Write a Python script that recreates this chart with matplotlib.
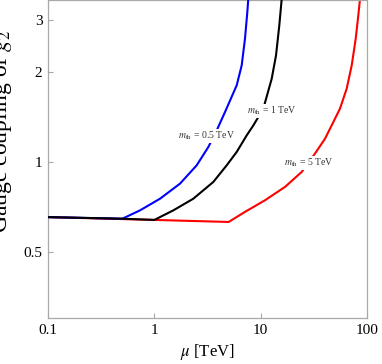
import matplotlib
matplotlib.use("Agg")
import matplotlib.pyplot as plt
from matplotlib.ticker import FixedLocator, FixedFormatter, NullLocator

plt.rcParams['font.family'] = ['Liberation Serif', 'DejaVu Serif']
plt.rcParams['mathtext.fontset'] = 'stix'

# data (mu in TeV, g2)
blue_mu = [0.1, 0.5, 0.733, 1.131, 1.743, 2.503, 3.219, 3.861, 4.62, 5.95, 6.63, 7.12, 7.49, 7.68]
blue_g = [0.654, 0.646, 0.689, 0.754, 0.847, 0.976, 1.124, 1.278, 1.473, 1.810, 2.112, 2.595, 3.19, 3.6]

black_mu = [0.1, 0.5, 1.0, 1.508, 2.325, 3.585, 4.793, 5.95, 7.39, 8.53, 10.59, 12.70, 13.94, 14.97, 15.85]
black_g = [0.654, 0.646, 0.640, 0.689, 0.754, 0.858, 0.976, 1.082, 1.230, 1.328, 1.512, 1.905, 2.281, 2.876, 3.6]

red_mu = [0.1, 1.0, 5.0, 7.12, 10.98, 16.94, 24.3, 32.4, 40.3, 50.0, 55.7, 64.4, 71.8, 78.3, 82.8, 86.5]
red_g = [0.654, 0.640, 0.630, 0.681, 0.745, 0.826, 0.927, 1.068, 1.199, 1.399, 1.512, 1.764, 2.112, 2.595, 3.106, 3.6]

xticks = [0.1, 1, 10, 100]
xticklabels = ["0.1", "1", "10", "100"]
yticks = [0.5, 1, 2, 3]
yticklabels = ["0.5", "1", "2", "3"]

labels = [r"$m_{\rm th}$ = 0.5 TeV", r"$m_{\rm th}$ = 1 TeV", r"$m_{\rm th}$ = 5 TeV"]
label_pos = [(3.13, 1.224), (12.8, 1.485), (28.5, 0.994)]

fig = plt.figure(figsize=(3.82, 3.64), dpi=100)
ax = fig.add_axes([48/382, 46/364, 319/382, 318/364])

ax.plot(red_mu, red_g, color=(1, 0, 0), lw=1.5, zorder=2, solid_joinstyle='round')
ax.plot(blue_mu, blue_g, color=(0, 0, 1), lw=1.5, zorder=3, solid_joinstyle='round')
ax.plot(black_mu, black_g, color='black', lw=1.5, zorder=4, solid_joinstyle='round')

ax.set_xscale('log')
ax.set_yscale('log')
ax.set_xlim(0.1, 100)
ax.set_ylim(0.3, 3.5)

ax.xaxis.set_major_locator(FixedLocator(xticks))
ax.xaxis.set_major_formatter(FixedFormatter(xticklabels))
ax.yaxis.set_major_locator(FixedLocator(yticks))
ax.yaxis.set_major_formatter(FixedFormatter(yticklabels))
ax.xaxis.set_minor_locator(NullLocator())
ax.yaxis.set_minor_locator(NullLocator())

gray = '#a8a8a8'
for s in ax.spines.values():
    s.set_color(gray)
    s.set_linewidth(0.9)
ax.tick_params(direction='in', length=3.5, width=0.8, color=gray,
               labelsize=11, labelcolor='black', pad=4)

for txt, (x, y) in zip(labels, label_pos):
    ax.text(x, y, txt, fontsize=7, ha='center', va='center', color='#333333',
            bbox=dict(facecolor='white', edgecolor='none', pad=0.5), zorder=5)

ax.set_xlabel(r"$\mu$ [TeV]", fontsize=12, labelpad=4)
ax.set_ylabel(r"Gauge coupling of $g_2$", fontsize=17)
ax.yaxis.set_label_coords(-0.106, 0.588)

fig.savefig("out.png", dpi=100)
